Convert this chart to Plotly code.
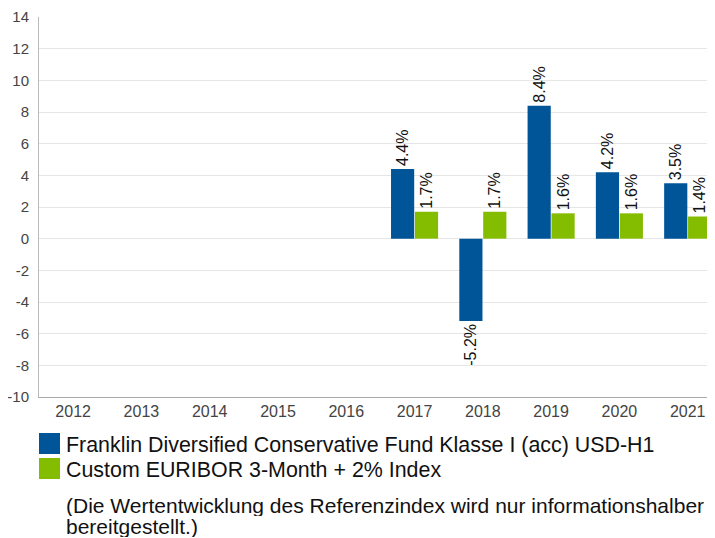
import plotly.graph_objects as go

years = ["2012", "2013", "2014", "2015", "2016", "2017", "2018", "2019", "2020", "2021"]
fund_values = [None, None, None, None, None, 4.4, -5.2, 8.4, 4.2, 3.5]
index_values = [None, None, None, None, None, 1.7, 1.7, 1.6, 1.6, 1.4]
series_names = [
    "Franklin Diversified Conservative Fund Klasse I (acc) USD-H1",
    "Custom EURIBOR 3-Month + 2% Index",
]
note_lines = [
    "(Die Wertentwicklung des Referenzindex wird nur informationshalber",
    "bereitgestellt.)",
]
y_tick_vals = [-10, -8, -6, -4, -2, 0, 2, 4, 6, 8, 10, 12, 14]
y_tick_text = ["-10", "-8", "-6", "-4", "-2", "0", "2", "4", "6", "8", "10", "12", "14"]
colors = ["#005598", "#84bc00"]

OFF = 8  # page body offset
W, H = 715 - OFF, 538 - OFF
ml, mt = 39 - OFF, 17 - OFF
mb = H - (397 - OFF)
mr = 0
FONT = "Liberation Sans, Arial"

def lbl(v):
    return [None if x is None else f"{x:.1f}%" for x in v]

fig = go.Figure()
for name, vals, col in zip(series_names, [fund_values, index_values], colors):
    fig.add_trace(go.Bar(
        x=years, y=vals, name=name, marker=dict(color=col, line=dict(width=0)),
        text=lbl(vals), textposition="outside", textangle=-90, constraintext="none",
        textfont=dict(family=FONT, size=16, color="#111"),
        cliponaxis=False, showlegend=False,
    ))

fig.update_layout(
    width=W, height=H,
    margin=dict(l=ml, r=mr, t=mt, b=mb, pad=0),
    paper_bgcolor="white", plot_bgcolor="white",
    barmode="group", bargap=0.3, bargroupgap=0.03,
    font=dict(family=FONT, size=15, color="#444"),
    xaxis=dict(type="category", range=[-0.5, 9.4], showline=True, linecolor="#aaa",
               linewidth=1, ticks="", showgrid=False, tickfont=dict(size=16, color="#444")),
    yaxis=dict(range=[-10, 14], tickvals=y_tick_vals, ticktext=y_tick_text,
               showline=True, linecolor="#bbb", linewidth=1,
               gridcolor="#e6e6e6", zeroline=True, zerolinecolor="#e6e6e6", zerolinewidth=1,
               ticks="", tickfont=dict(size=15, color="#444"), ticklabelstandoff=6),
)

pw = W - ml - mr
ph = H - mt - mb
def px_x(x):
    return (x - OFF - ml) / pw
def px_y(y):
    return (H - mb - (y - OFF)) / ph

legend_rows = [(433, 454), (458, 479)]
for (y0, y1), name, col in zip(legend_rows, series_names, colors):
    fig.add_shape(type="rect", xref="paper", yref="paper",
                  x0=px_x(39), x1=px_x(60), y0=px_y(y1), y1=px_y(y0),
                  fillcolor=col, line=dict(width=0))
    fig.add_annotation(xref="paper", yref="paper", x=px_x(64), y=px_y((y0 + y1) / 2 + 1),
                       xanchor="left", yanchor="middle", text=name, showarrow=False,
                       font=dict(family=FONT, size=21.4, color="#111"))

for i, line in enumerate(note_lines):
    fig.add_annotation(xref="paper", yref="paper", x=px_x(64), y=px_y(505 + 21.5 * i),
                       xanchor="left", yanchor="middle", text=line, showarrow=False,
                       height=21, align="left",
                       font=dict(family=FONT, size=21, color="#111"))

fig.write_html("out.html")
